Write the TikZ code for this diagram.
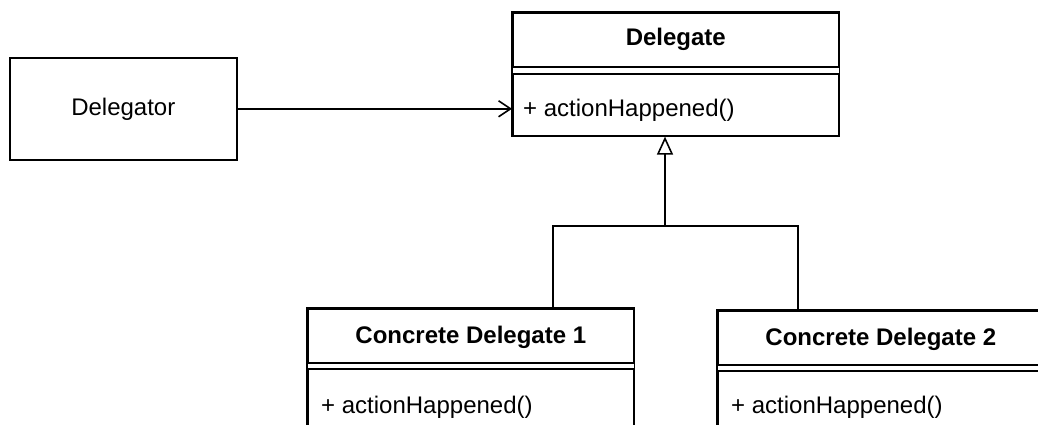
\documentclass[tikz,border=0pt]{standalone}
\usepackage{fontspec}
\setmainfont{Liberation Sans}
\usetikzlibrary{arrows.meta}
\tikzset{
  box/.style={draw=black, line width=1.6pt, rectangle, inner sep=0pt, anchor=north west},
  lbl/.style={inner sep=0pt, font=\fontsize{24}{28}\selectfont},
  ttl/.style={inner sep=0pt, font=\fontsize{24}{28}\selectfont\bfseries},
  conn/.style={draw=black, line width=1.6pt},
}
\begin{document}
\begin{tikzpicture}[x=1pt,y=-1pt]
\useasboundingbox (0,0) rectangle (1038,425);
\clip (0,0) rectangle (1038,425);
\fill[white] (0,0) rectangle (1038,425);

% Delegator
\node[box, minimum width=227pt, minimum height=102pt] (dr) at (9,57) {};
\node[lbl] (drt) at (dr.center) {Delegator};

% Delegate
\node[box, minimum width=326pt, minimum height=54pt] (dh) at (512,12) {};
\node[ttl] (dht) at (dh.center) {Delegate};
\node[box, minimum width=326pt, minimum height=62pt] (db) at (512,73) {};
\draw[conn] (dh.north west) rectangle (db.south east);
\node[lbl, anchor=base west] (dbt) at (523,117) {+ actionHappened()};

% Concrete Delegate 1
\node[box, minimum width=326pt, minimum height=54pt] (c1h) at (307,308) {};
\node[ttl] (c1ht) at ([yshift=-2pt]c1h.center) {Concrete Delegate 1};
\node[box, minimum width=326pt, minimum height=100pt] (c1b) at (307,368) {};
\draw[conn] (c1h.north west) rectangle (c1b.south east);
\node[lbl, anchor=base west] (c1bt) at (321,413) {+ actionHappened()};

% Concrete Delegate 2
\node[box, minimum width=326pt, minimum height=54pt] (c2h) at (717,310) {};
\node[ttl] (c2ht) at ([yshift=-2pt]c2h.center) {Concrete Delegate 2};
\node[box, minimum width=326pt, minimum height=100pt] (c2b) at (717,370) {};
\draw[conn] (c2h.north west) rectangle (c2b.south east);
\node[lbl, anchor=base west] (c2bt) at (731,413) {+ actionHappened()};

% association
\draw[conn, -{Straight Barb[length=12pt, width=16pt, line width=1.6pt]}] (dr.east) -- (dr.east -| db.west);

% generalization
\coordinate (j) at (665,226);
\draw[conn] ([xshift=246pt]c1h.north west) |- (j);
\draw[conn] ([xshift=81pt]c2h.north west) |- (j);
\draw[conn, -{Triangle[open, length=18pt, width=16pt, line width=1.6pt]}] (j) -- (j |- db.south);
\end{tikzpicture}
\end{document}
